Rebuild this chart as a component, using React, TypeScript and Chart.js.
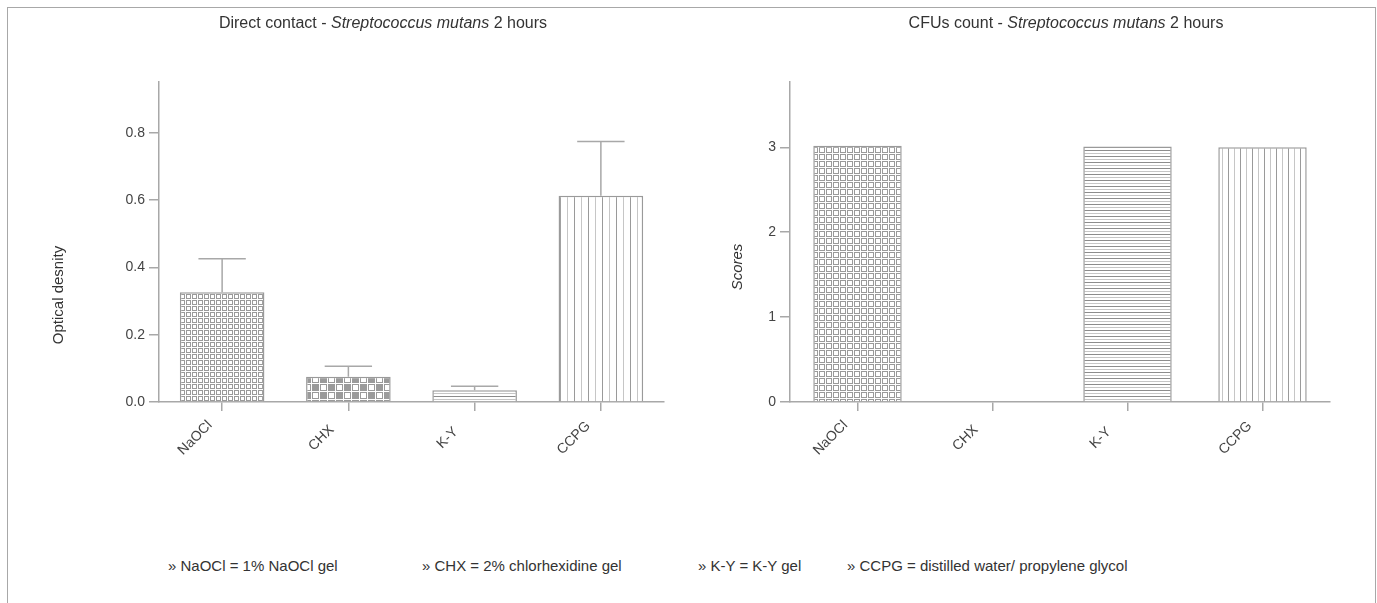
import React, { useEffect, useRef } from 'react';
import { Chart, registerables } from 'chart.js';

Chart.register(...registerables);

// ---------- data ----------
const categories = ['NaOCl', 'CHX', 'K-Y', 'CCPG'];
const opticalDensity = [0.326, 0.075, 0.035, 0.613];
const opticalDensitySD = [0.1, 0.031, 0.012, 0.161];
const cfuScores = [3.02, 0, 3.01, 3.0];
const odAxisMax = 0.951;
const odTickStep = 0.2;
const scoreAxisMax = 3.77;
const scoreTickStep = 1;
const leftTitleParts = ['Direct contact - ', 'Streptococcus mutans', ' 2 hours'];
const rightTitleParts = ['CFUs count - ', 'Streptococcus mutans', ' 2 hours'];
const leftYTitle = 'Optical desnity';
const rightYTitle = 'Scores';
const footnotes = [
  '» NaOCl = 1% NaOCl gel',
  '» CHX = 2% chlorhexidine gel',
  '» K-Y = K-Y gel',
  '» CCPG = distilled water/ propylene glycol',
];

// ---------- styling ----------
const FONT = '"Liberation Sans", Arial, Helvetica, sans-serif';
const AXIS = '#a8a8a8';
const TEXT = '#333333';

function makePattern(kind: string, size: number): CanvasPattern {
  const c = document.createElement('canvas');
  const g = c.getContext('2d')!;
  if (kind === 'squares') {
    c.width = size;
    c.height = size;
    g.fillStyle = '#fff';
    g.fillRect(0, 0, size, size);
    g.strokeStyle = '#9a9a9a';
    g.lineWidth = 1;
    g.strokeRect(0.5, 0.5, size - 2, size - 2);
  } else if (kind === 'checker') {
    c.width = size * 2;
    c.height = size * 2;
    g.fillStyle = '#fff';
    g.fillRect(0, 0, c.width, c.height);
    for (let r = 0; r < 2; r++) {
      for (let k = 0; k < 2; k++) {
        const x = k * size;
        const y = r * size;
        g.strokeStyle = '#9a9a9a';
        g.lineWidth = 1;
        g.strokeRect(x + 0.5, y + 0.5, size - 2, size - 2);
        if ((r + k) % 2 === 1) {
          g.fillStyle = '#9a9a9a';
          g.fillRect(x + 1, y + 1, size - 3, size - 3);
        }
      }
    }
  } else if (kind === 'hlines') {
    c.width = 2;
    c.height = size * 2;
    g.fillStyle = '#fff';
    g.fillRect(0, 0, c.width, c.height);
    g.fillStyle = '#8c8c8c';
    g.fillRect(0, 0, 2, 1);
    g.fillStyle = '#c6c6c6';
    g.fillRect(0, size, 2, 1);
  } else {
    c.width = size * 2;
    c.height = 2;
    g.fillStyle = '#fff';
    g.fillRect(0, 0, c.width, c.height);
    g.fillStyle = '#9a9a9a';
    g.fillRect(0, 0, 1, 2);
    g.fillStyle = '#c6c6c6';
    g.fillRect(size, 0, 1, 2);
  }
  return g.createPattern(c, 'repeat')!;
}

function errorBarPlugin(errors: number[]) {
  return {
    id: 'errorBars',
    afterDatasetsDraw(chart: any) {
      const meta = chart.getDatasetMeta(0);
      const y = chart.scales.y;
      const values = chart.data.datasets[0].data as number[];
      const ctx = chart.ctx as CanvasRenderingContext2D;
      ctx.save();
      ctx.strokeStyle = AXIS;
      ctx.lineWidth = 1.5;
      meta.data.forEach((bar: any, i: number) => {
        const top = y.getPixelForValue(values[i] + errors[i]);
        const base = y.getPixelForValue(values[i]);
        const half = bar.width * 0.28;
        ctx.beginPath();
        ctx.moveTo(bar.x, base);
        ctx.lineTo(bar.x, top);
        ctx.moveTo(bar.x - half, top);
        ctx.lineTo(bar.x + half, top);
        ctx.stroke();
      });
      ctx.restore();
    },
  };
}

function axisTitlePlugin(text: string, italic: boolean, dx: number, dy: number) {
  return {
    id: 'axisTitleCustom',
    afterDraw(chart: any) {
      const { ctx, chartArea } = chart;
      ctx.save();
      ctx.translate(chartArea.left - dx, chartArea.top + dy);
      ctx.rotate(-Math.PI / 2);
      ctx.font = `${italic ? 'italic ' : ''}15px ${FONT}`;
      ctx.fillStyle = TEXT;
      ctx.textAlign = 'center';
      ctx.textBaseline = 'middle';
      ctx.fillText(text, 0, 0);
      ctx.restore();
    },
  };
}

// rotated category labels, centred slightly left/below each tick
const xLabelPlugin = {
  id: 'xLabelsCentred',
  afterDraw(chart: any) {
    const scale = chart.scales.x;
    const ctx = chart.ctx as CanvasRenderingContext2D;
    const labels = chart.data.labels as string[];
    ctx.save();
    ctx.font = `14px ${FONT}`;
    ctx.fillStyle = '#444';
    ctx.textAlign = 'center';
    ctx.textBaseline = 'middle';
    labels.forEach((lab, i) => {
      const x = scale.getPixelForTick(i) - 27;
      const y = scale.top + 36;
      ctx.save();
      ctx.translate(x, y);
      ctx.rotate(-Math.PI / 4);
      ctx.fillText(lab, 0, 0);
      ctx.restore();
    });
    ctx.restore();
  },
};

function buildConfig(opts: {
  values: number[];
  patterns: CanvasPattern[];
  yMax: number;
  step: number;
  decimals: number;
  yWidth: number;
  padRight: number;
  barPct: number;
  plugins: any[];
}): any {
  return {
    type: 'bar',
    data: {
      labels: categories,
      datasets: [
        {
          data: opts.values,
          backgroundColor: opts.patterns,
          borderColor: '#9a9a9a',
          borderWidth: 1.5,
          borderSkipped: 'bottom',
          barPercentage: opts.barPct,
          categoryPercentage: 1,
        },
      ],
    },
    options: {
      responsive: false,
      animation: false,
      events: [],
      layout: { padding: { left: 0, right: opts.padRight, top: 82, bottom: 0 } },
      plugins: { legend: { display: false }, tooltip: { enabled: false }, title: { display: false } },
      scales: {
        x: {
          offset: true,
          grid: { offset: false, drawOnChartArea: false, drawTicks: true, tickLength: 9, color: AXIS, lineWidth: 1.5 },
          border: { color: AXIS, width: 1.5 },
          ticks: { display: false, autoSkip: false },
          afterFit(scale: any) {
            scale.height = 118;
          },
        },
        y: {
          min: 0,
          max: opts.yMax,
          grid: { drawOnChartArea: false, drawTicks: true, tickLength: 10, color: AXIS, lineWidth: 1.5 },
          border: { color: AXIS, width: 1.5 },
          ticks: {
            stepSize: opts.step,
            includeBounds: false,
            color: '#444',
            font: { family: FONT, size: 14 },
            padding: 4,
            callback: (v: any) => Number(v).toFixed(opts.decimals),
          },
          afterFit(scale: any) {
            scale.width = opts.yWidth;
          },
        },
      },
    },
    plugins: [xLabelPlugin, ...opts.plugins],
  };
}

export default function App() {
  const leftRef = useRef<HTMLCanvasElement>(null);
  const rightRef = useRef<HTMLCanvasElement>(null);

  useEffect(() => {
    const leftPatterns = [
      makePattern('squares', 6),
      makePattern('checker', 8),
      makePattern('hlines', 3),
      makePattern('vlines', 7),
    ];
    const rightPatterns = [
      makePattern('squares', 7),
      makePattern('checker', 8),
      makePattern('hlines', 3),
      makePattern('vlines', 6),
    ];
    const left = new Chart(
      leftRef.current!,
      buildConfig({
        values: opticalDensity,
        patterns: leftPatterns,
        yMax: odAxisMax,
        step: odTickStep,
        decimals: 1,
        yWidth: 159,
        padRight: 36,
        barPct: 0.67,
        plugins: [errorBarPlugin(opticalDensitySD), axisTitlePlugin(leftYTitle, false, 100, 213)],
      })
    );
    const right = new Chart(
      rightRef.current!,
      buildConfig({
        values: cfuScores,
        patterns: rightPatterns,
        yMax: scoreAxisMax,
        step: scoreTickStep,
        decimals: 0,
        yWidth: 90,
        padRight: 47,
        barPct: 0.655,
        plugins: [axisTitlePlugin(rightYTitle, true, 52, 185)],
      })
    );
    return () => {
      left.destroy();
      right.destroy();
    };
  }, []);

  const titleStyle: React.CSSProperties = {
    position: 'absolute',
    top: 23,
    transform: 'translate(-50%, -50%)',
    whiteSpace: 'nowrap',
    fontSize: 16,
    color: TEXT,
  };
  const footX = [168, 422, 698, 847];

  return (
    <div
      style={{
        position: 'absolute',
        left: 0,
        top: 0,
        width: 1377,
        height: 603,
        overflow: 'hidden',
        background: '#fff',
        fontFamily: FONT,
      }}
    >
      <div
        style={{
          position: 'absolute',
          left: 7,
          top: 7,
          width: 1369,
          height: 640,
          border: '1px solid #a8a8a8',
          boxSizing: 'border-box',
        }}
      />
      <canvas ref={leftRef} width={700} height={520} style={{ position: 'absolute', left: 0, top: 0, width: 700, height: 520 }} />
      <canvas ref={rightRef} width={677} height={520} style={{ position: 'absolute', left: 700, top: 0, width: 677, height: 520 }} />
      <div style={{ ...titleStyle, left: 383 }}>
        {leftTitleParts[0]}
        <i>{leftTitleParts[1]}</i>
        {leftTitleParts[2]}
      </div>
      <div style={{ ...titleStyle, left: 1066 }}>
        {rightTitleParts[0]}
        <i>{rightTitleParts[1]}</i>
        {rightTitleParts[2]}
      </div>
      {footnotes.map((t, i) => (
        <div
          key={t}
          style={{
            position: 'absolute',
            left: footX[i],
            top: 565,
            transform: 'translateY(-50%)',
            whiteSpace: 'nowrap',
            fontSize: 15,
            color: TEXT,
          }}
        >
          {t}
        </div>
      ))}
    </div>
  );
}
